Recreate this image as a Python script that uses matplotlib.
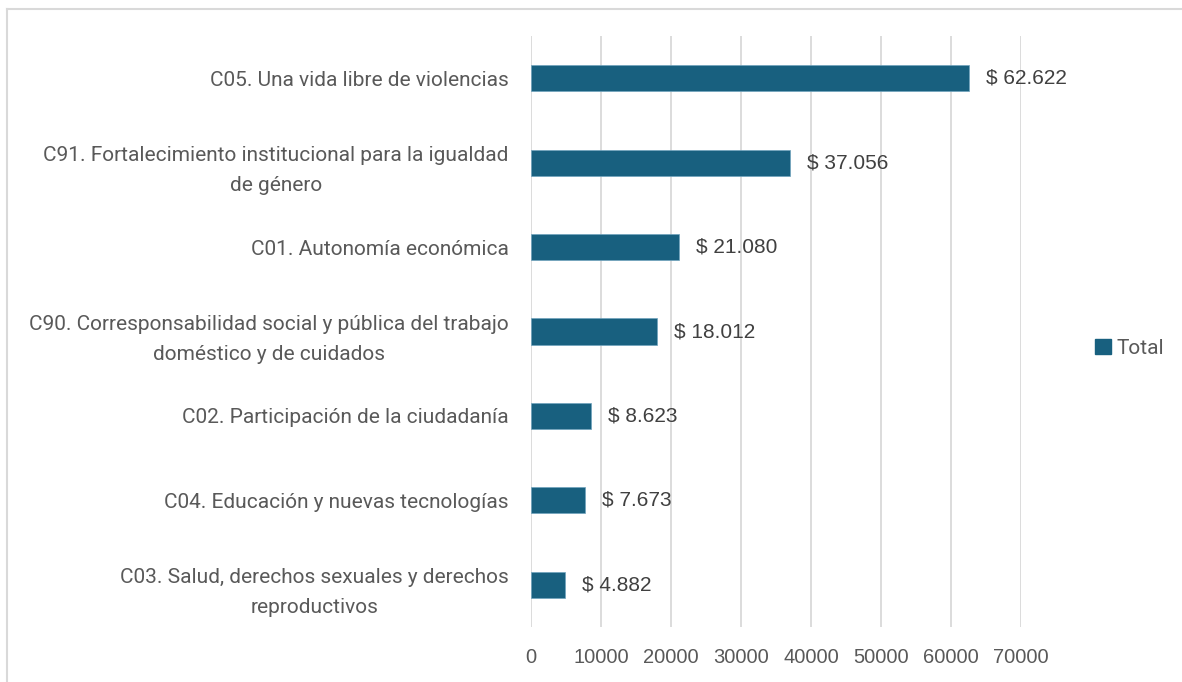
import numpy as np
import matplotlib.pyplot as plt
from matplotlib.lines import Line2D
from matplotlib.patches import Patch

# categories from top to bottom
categorias = ['C05. Una vida libre de violencias',
              'C91. Fortalecimiento institucional para la igualdad\nde género',
              'C01. Autonomía económica',
              'C90. Corresponsabilidad social y pública del trabajo\ndoméstico y de cuidados',
              'C02. Participación de la ciudadanía',
              'C04. Educación y nuevas tecnologías',
              'C03. Salud, derechos sexuales y derechos\nreproductivos']
totales = [62622, 37056, 21080, 18012, 8623, 7673, 4882]
etiquetas = ['$ 62.622', '$ 37.056', '$ 21.080', '$ 18.012', '$ 8.623', '$ 7.673', '$ 4.882']
ticks_x = [0, 10000, 20000, 30000, 40000, 50000, 60000, 70000]

color_barra = '#18607f'
gris = '#595959'

fig = plt.figure(figsize=(11.82, 6.82), dpi=100)
ax = fig.add_axes([531/1182, 1 - 627/682, (1021 - 531)/1182, (627 - 36)/682])

y = np.arange(len(categorias))
ax.barh(y, totales, height=0.31, color=color_barra, edgecolor='#6fa3bd', linewidth=0.5, zorder=3)
ax.set_ylim(len(categorias) - 0.5, -0.5)
ax.set_xlim(0, 70000)

for yi, v, t in zip(y, totales, etiquetas):
    ax.annotate(t, (v, yi), xytext=(17, 0), textcoords='offset pixels',
                va='center', ha='left', fontsize=15, color='#404040', family='Liberation Sans')

ax.set_yticks(y)
ax.set_yticklabels(categorias, fontsize=15, color=gris, family='Roboto', ha='right',
                   multialignment='center', linespacing=1.75)
ax.tick_params(axis='y', length=0, pad=16)
ax.set_xticks(ticks_x)
ax.set_xticklabels([str(t) for t in ticks_x], fontsize=14.5, color=gris, family='Liberation Sans')
ax.tick_params(axis='x', length=0, pad=15)

ax.grid(axis='x', color='#d9d9d9', linewidth=1.3, zorder=0)
for s in ax.spines.values():
    s.set_visible(False)

# legend
h = [Patch(facecolor=color_barra, edgecolor=color_barra)]
fig.legend(h, ['Total'], loc='center left', bbox_to_anchor=(1095/1182, 1 - 348/682),
           frameon=False, handlelength=0.75, handleheight=0.75, handletextpad=0.3,
           borderpad=0, borderaxespad=0, labelcolor=gris, prop={'family': 'Roboto', 'size': 15})

# outer border (only top and left visible)
fig.add_artist(Line2D([7/1182, 1], [1 - 9/682, 1 - 9/682], color='#d9d9d9', linewidth=1.5))
fig.add_artist(Line2D([7/1182, 7/1182], [0, 1 - 9/682], color='#d9d9d9', linewidth=1.5))

plt.savefig('out.png', dpi=100)
